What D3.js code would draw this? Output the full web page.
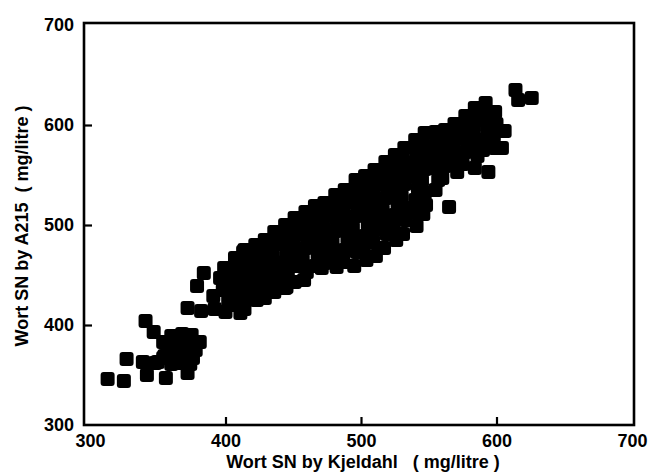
<!DOCTYPE html>
<html>
<head>
<meta charset="utf-8">
<script src="https://cdn.jsdelivr.net/npm/d3@7"></script>
<style>
  body { margin: 0; background: #fff; }
  svg text { font-family: "Liberation Sans", Arial, sans-serif; font-weight: bold; fill: #000; }
</style>
</head>
<body>
<svg id="chart" width="652" height="474"></svg>
<script>
// tick labels
var xTicks = [300, 400, 500, 600, 700];
var yTicks = [300, 400, 500, 600, 700];
var innerTicks = [400, 500, 600];

// Kjeldahl (x) vs A215 (y), mg/litre
// lower left cluster
var lowGroup = [
  [313,346],[325,344],[327,366],[341,404],[347,393],[354,383],[339,363],[348,362],
  [354,367],[342,350],[356,347],[372,352],[360,389],[368,391],[375,390],[381,383],
  [358,379],[365,380],[372,381],[378,375],[355,369],[363,370],[370,371],[376,367],
  [360,361],[368,362],[350,363],[374,361]
];
// second cluster, around 400
var midGroup = [
  [384,452],[379,439],[396,447],[372,417],[382,414],[391,429],[392,416],[403,422],
  [411,412],[408,420],[405,435],[413,473],[416,458],[420,448],[418,435],[424,437],
  [413,428],[445,438],[471,457]
];
// the main band
var mainBand = [
  [399,457],[401,446],[398,435],[402,424],[400,413],
  [407,467],[408,455],[406,444],[407,433],[409,421],
  [414,475],[413,463],[415,451],[414,439],[416,427],[414,416],
  [422,480],[421,469],[423,457],[422,446],[420,435],[423,425],
  [429,485],[430,473],[428,461],[429,449],[431,438],[429,427],
  [436,493],[437,481],[435,469],[436,457],[438,445],[436,433],
  [444,500],[443,487],[445,475],[444,463],[446,451],[444,437],
  [451,507],[452,495],[450,483],[451,471],[453,459],[451,443],
  [459,513],[458,501],[460,489],[459,477],[457,465],[460,453],[458,445],
  [466,519],[467,507],[465,495],[466,483],[468,471],[466,459],
  [473,522],[474,510],[472,498],[473,486],[475,474],[473,462],
  [481,530],[480,518],[482,506],[481,494],[479,482],[481,470],[482,458],
  [488,535],[489,523],[487,511],[488,499],[490,487],[488,475],[487,463],
  [496,545],[495,533],[497,521],[496,509],[494,497],[496,485],[497,473],[495,459],
  [503,549],[504,537],[502,525],[503,513],[505,501],[503,489],[502,477],[504,465],
  [510,555],[511,543],[509,531],[510,519],[512,507],[510,495],[509,483],[511,469],
  [518,563],[517,551],[519,539],[518,527],[516,515],[518,503],[519,491],[517,477],
  [525,570],[526,558],[524,546],[525,534],[527,522],[525,510],[524,498],[526,485],
  [532,577],[531,565],[533,553],[532,541],[530,529],[532,517],[533,505],[531,491],
  [540,585],[541,573],[539,561],[540,549],[542,537],[540,525],[539,513],[541,499],
  [547,592],[546,580],[548,568],[547,556],[545,544],[547,532],[548,520],[546,511],
  [555,593],[556,581],[554,569],[555,557],[557,545],[555,535],
  [562,595],[561,583],[563,571],[562,559],[560,547],
  [569,601],[570,589],[568,577],[569,565],[571,553],
  [577,609],[576,597],[578,585],[577,573],[575,561],
  [584,617],[585,605],[583,593],[584,581],[586,569],[584,557],
  [592,622],[591,610],[593,598],[592,586],[590,575],[594,553],
  [599,613],[600,601],[598,589],[599,577],
  [606,594],[604,577]
];
// top right pair and the lone one below the band
var strays = [[614,635],[626,627],[616,625],[565,518]];

var svg = d3.select("#chart");

var x = d3.scaleLinear().domain([300, 700]).range([90, 632]);
var y = d3.scaleLinear().domain([300, 700]).range([425, 25]);

// frame
svg.append("rect")
   .attr("x", 84).attr("y", 23)
   .attr("width", 550).attr("height", 402)
   .attr("fill", "none")
   .attr("stroke", "#000")
   .attr("stroke-width", 2.6);

// inward ticks
var tb = svg.append("g").attr("transform", "translate(0,425)")
   .call(d3.axisBottom(x).tickValues(innerTicks).tickSize(-8).tickFormat(""));
var tl = svg.append("g").attr("transform", "translate(84,0)")
   .call(d3.axisLeft(y).tickValues(innerTicks).tickSize(-8).tickFormat(""));
[tb, tl].forEach(function(g){
    g.select(".domain").remove();
    g.selectAll("line").attr("stroke", "#000").attr("stroke-width", 2.2);
});

// tick labels
var lb = svg.append("g").attr("transform", "translate(0,432)")
   .call(d3.axisBottom(x).tickValues(xTicks).tickSize(0).tickPadding(0));
var ll = svg.append("g").attr("transform", "translate(74,0)")
   .call(d3.axisLeft(y).tickValues(yTicks).tickSize(0).tickPadding(0));
[lb, ll].forEach(function(g){
    g.select(".domain").remove();
    g.selectAll("text").style("font-size", "18px")
     .style("font-family", "'Liberation Sans', Arial, sans-serif")
     .style("font-weight", "bold").attr("fill", "#000");
});
lb.selectAll("text").attr("dy", "0.85em");

// axis titles
svg.append("text")
   .attr("x", 363).attr("y", 468)
   .attr("text-anchor", "middle")
   .style("font-size", "18px")
   .style("white-space", "pre")
   .text("Wort SN by Kjeldahl   ( mg/litre )");

svg.append("text")
   .attr("transform", "translate(28,226) rotate(-90)")
   .attr("text-anchor", "middle")
   .style("font-size", "18px")
   .style("white-space", "pre")
   .text("Wort SN by A215  ( mg/litre )");

// points
var all = lowGroup.concat(midGroup, mainBand, strays);
svg.append("g").selectAll("rect")
   .data(all)
   .enter()
   .append("rect")
   .attr("x", d => x(d[0]) - 7)
   .attr("y", d => y(d[1]) - 7)
   .attr("width", 14).attr("height", 14)
   .attr("rx", 3)
   .attr("fill", "#000");
</script>
</body>
</html>
